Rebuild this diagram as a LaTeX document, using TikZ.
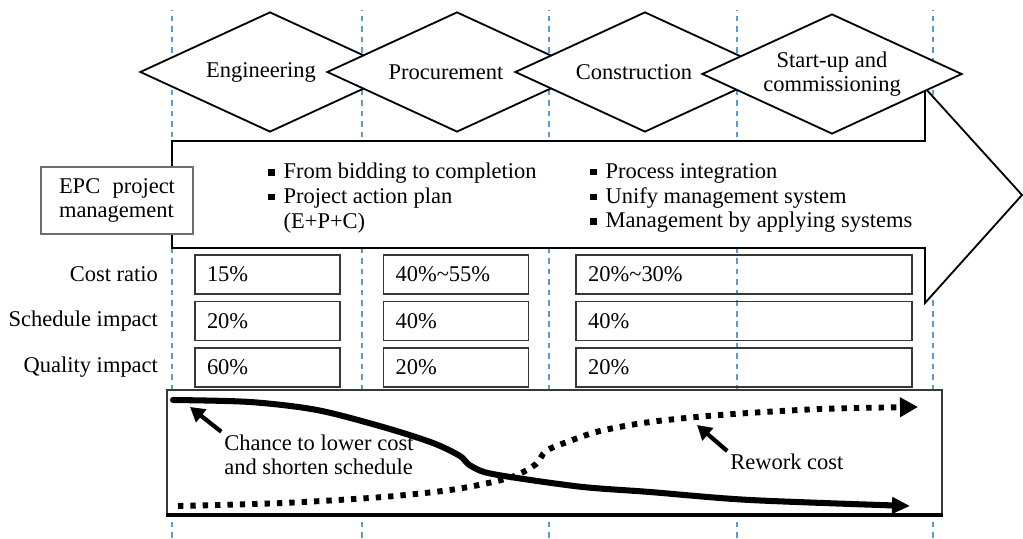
\documentclass[tikz,border=0pt]{standalone}
\usepackage{fontspec}
\setmainfont{Liberation Serif}
\usepackage{tikz}
\usetikzlibrary{shapes.geometric, arrows.meta, positioning, calc}
\definecolor{guideblue}{RGB}{91,155,213}
\definecolor{boxgray}{RGB}{55,55,55}
\definecolor{epcgray}{RGB}{110,110,110}
\newcommand{\figfont}{\fontsize{16}{17.5}\selectfont}
\newcommand{\sqbul}{\rule[0.3ex]{0.28em}{0.28em}\hspace{0.4em}}
\tikzset{
  phase/.style={diamond, draw=black, fill=white, line width=1.3pt,
    minimum width=6.5cm, minimum height=3cm, aspect=2.17,
    inner sep=0pt, align=center, font=\figfont},
  cell/.style={rectangle, draw=boxgray, line width=1.1pt,
    minimum height=0.975cm, inner xsep=0.3cm, inner ysep=0pt,
    align=left, font=\figfont},
  rowlabel/.style={inner sep=0pt, font=\figfont},
  note/.style={align=left, inner sep=2pt, font=\figfont},
  guide/.style={guideblue, line width=0.9pt, dash pattern=on 4pt off 3.5pt},
  flow/.style={draw=black, fill=white, line width=1.3pt, line join=miter},
  curve/.style={line width=4.3pt, line cap=round,
    -{Triangle[length=0.45cm, width=0.4cm]}},
  dotcurve/.style={line width=4.2pt, dash pattern=on 3.8pt off 5pt,
    -{Triangle[length=0.45cm, width=0.47cm]}},
  pointer/.style={line width=3pt, -{Triangle[length=0.36cm, width=0.4cm]}}
}

\begin{document}
\begin{tikzpicture}
  \useasboundingbox (0,0) rectangle (25.575,13.45);

  % Phase boundaries
  \foreach \x in {4.3, 9.05, 13.725, 18.425, 23.325}
    \draw[guide] (\x,0) -- (\x,13.2);

  % Big management arrow
  \draw[flow] (4.3,9.925) -- (23.125,9.925) -- (23.125,11.25) -- (25.55,8.575)
    -- (23.125,5.875) -- (23.125,7.25) -- (4.3,7.25) -- cycle;

  % Phases (text sits a little left of centre)
  \node[phase] (eng) at (6.75,11.65) {Engineering\hspace*{0.45cm}};
  \node[phase] (proc) at (11.425,11.65) {Procurement\hspace*{0.55cm}};
  \node[phase] (cons) at (16.125,11.65) {Construction\hspace*{0.55cm}};
  \node[phase] (comm) at (20.8,11.6) {Start-up and\\commissioning};

  % Management scope
  \node (epc) [rectangle, draw=epcgray, fill=white, line width=0.8pt,
    text width=2.9cm, minimum height=1.675cm, inner xsep=0.45cm,
    align=left, font=\figfont] at (2.925,8.4375) {EPC\hfill project\\management};
  \node (scope) [note, anchor=west, inner sep=0pt] at (6.7,8.5)
    {\sqbul From bidding to completion\\\sqbul Project action plan\\
     \phantom{\sqbul}(E+P+C)};
  \node (integ) [note, anchor=west, inner sep=0pt] at (14.75,8.5)
    {\sqbul Process integration\\\sqbul Unify management system\\
     \sqbul Management by applying systems};

  % Impact table
  \node[cell, text width=3.025cm] (e1) at (6.6875,6.5875) {15\%};
  \node[cell, text width=3.025cm, below=0.15cm of e1] (e2) {20\%};
  \node[cell, text width=3.025cm, below=0.15cm of e2] (e3) {60\%};
  \node[cell, text width=3.025cm, right=1.05cm of e1] (p1) {40\%\textasciitilde55\%};
  \node[cell, text width=3.025cm, below=0.15cm of p1] (p2) {40\%};
  \node[cell, text width=3.025cm, below=0.15cm of p2] (p3) {20\%};
  \node[cell, text width=7.8cm, right=1.15cm of p1] (c1) {20\%\textasciitilde30\%};
  \node[cell, text width=7.8cm, below=0.15cm of c1] (c2) {40\%};
  \node[cell, text width=7.8cm, below=0.15cm of c2] (c3) {20\%};
  \node[rowlabel, left=0.9cm of e1] (cost) {Cost ratio};
  \node[rowlabel, left=0.9cm of e2] (sched) {Schedule impact};
  \node[rowlabel, left=0.9cm of e3] (qual) {Quality impact};

  % Cost curves
  \node (chart) [draw=boxgray, fill=white, line width=1pt, inner sep=0pt,
    minimum width=19.375cm, minimum height=3.1cm] at (13.8625,2.15) {};
  \draw[line width=2.6pt] (chart.south west) -- (chart.south east);
  \draw[curve] plot[smooth, tension=0.5] coordinates {
    (4.325,3.45) (6.25,3.4) (7.925,3.2) (9.575,2.775) (10.825,2.375)
    (11.5,2.05) (11.7,1.85) (12.1,1.65) (12.925,1.5) (14.575,1.275)
    (16.25,1.15) (18.75,0.95) (22.75,0.8)};
  \draw[dotcurve] plot[smooth, tension=0.5] coordinates {
    (4.45,0.8) (7.075,0.875) (9.575,1.025) (11.25,1.2) (12.325,1.4)
    (12.925,1.575) (13.4,1.85) (13.65,2.175) (14.175,2.4) (15.0,2.675)
    (16.25,2.9) (18.0,3.075) (20.5,3.225) (22.95,3.275)};

  \node[note, anchor=west] (chance) at (5.53,2.075)
    {Chance to lower cost\\and shorten schedule};
  \coordinate (chancetip) at (4.75,3.275);
  \draw[pointer] (chance.north west) -- (chancetip);
  \node[note, anchor=west] (rework) at (18.18,1.9) {Rework cost};
  \coordinate (reworktip) at (17.425,2.825);
  \draw[pointer] (rework.north west) -- (reworktip);
\end{tikzpicture}
\end{document}
